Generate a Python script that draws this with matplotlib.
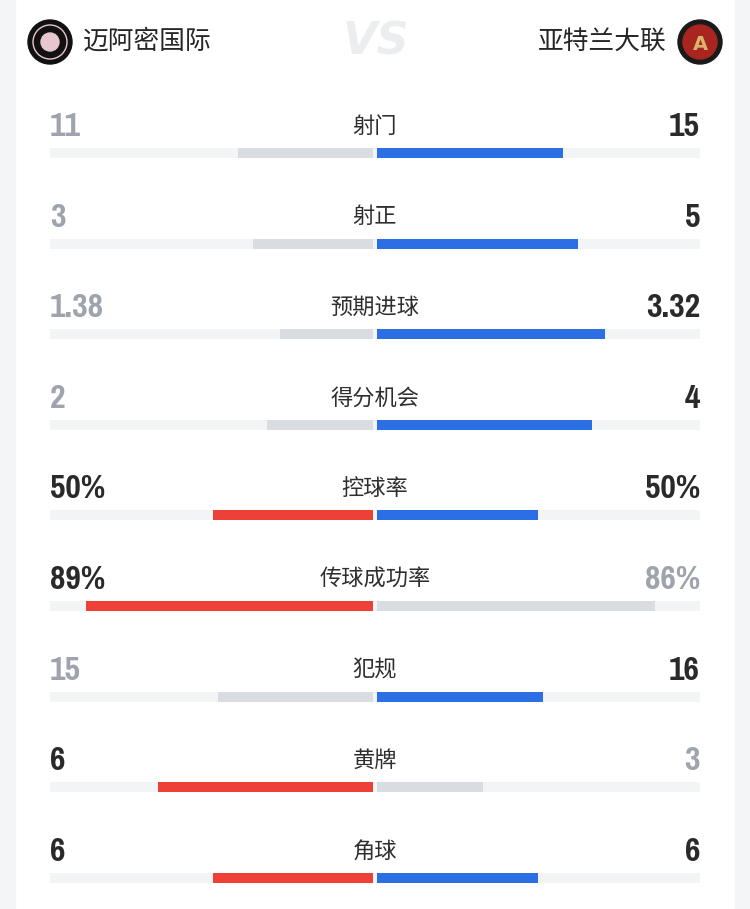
import matplotlib
matplotlib.use('Agg')
import matplotlib.pyplot as plt
from matplotlib import font_manager
from matplotlib.font_manager import FontProperties
from matplotlib.patches import Circle, Rectangle

home_team = '迈阿密国际'
away_team = '亚特兰大联'
stat_names = ['射门', '射正', '预期进球', '得分机会', '控球率', '传球成功率', '犯规', '黄牌', '角球']
home_vals = [11, 3, 1.38, 2, 50, 89, 15, 6, 6]
away_vals = [15, 5, 3.32, 4, 50, 86, 16, 3, 6]
is_pct = [False, False, False, False, True, True, False, False, False]

RED = '#EE4036'
BLUE = '#2C6FE4'
LOSE_BAR = '#D9DCE1'
TRACK = '#F3F4F6'
DARK = '#2A2A2A'
GREY_TXT = '#9EA3AD'
CJK = ['Noto Sans CJK SC', 'DejaVu Sans']


def pick_num_font():
    # prefer a bold condensed face for the numbers
    files = [f for f in font_manager.fontManager.ttflist]
    for key in ['Narrow-Bold', 'NarrowBold', 'Condensed-Bold', 'CondensedBold', 'Condensed']:
        for f in files:
            if key.lower() in f.fname.lower().replace('_', '-') and 'oblique' not in f.fname.lower() \
                    and 'italic' not in f.fname.lower():
                return FontProperties(fname=f.fname, size=26.5)
    return FontProperties(family='Roboto', weight='bold', size=26)


num_fp = pick_num_font()


def fmt(v, pct):
    s = ('%g' % v)
    return s + '%' if pct else s


fig = plt.figure(figsize=(7.5, 9.09), dpi=100)
ax = fig.add_axes([0, 0, 1, 1])
ax.set_xlim(0, 750)
ax.set_ylim(909, 0)
ax.axis('off')

# side strips
ax.add_patch(Rectangle((0, 0), 15, 909, color='#F4F5F7', zorder=0))
ax.add_patch(Rectangle((735, 0), 15, 909, color='#F4F5F7', zorder=0))

# header
ax.add_patch(Circle((50, 42), 22, color='#111111', zorder=2))
ax.add_patch(Circle((50, 42), 17, fill=False, ec='#E8C6CF', lw=1, zorder=3))
ax.add_patch(Circle((50, 42), 9, color='#E8C6CF', zorder=3))
ax.add_patch(Circle((700, 42), 22, color='#1A1A1A', zorder=2))
ax.add_patch(Circle((700, 42), 17, color='#A8261F', zorder=3))
ax.text(700, 44, 'A', ha='center', va='center', fontsize=14, fontweight='bold',
        color='#D8B56A', zorder=4)
ax.text(83, 42, home_team, ha='left', va='center', fontsize=18.5, family=CJK, color='#262626')
ax.text(667, 42, away_team, ha='right', va='center', fontsize=18.5, family=CJK, color='#262626')
ax.text(376, 42, 'VS', ha='center', va='center', fontsize=32, fontweight='bold',
        style='italic', color='#ECEDEF', family='DejaVu Sans')

center = 375
half = 325
gap = 2
row0 = 126
step = 90.6

for i, name in enumerate(stat_names):
    a, b = home_vals[i], away_vals[i]
    ty = row0 + i * step
    by = ty + 27
    if is_pct[i]:
        la, lb = a / 100 * half, b / 100 * half
    else:
        la, lb = a / (a + b) * half, b / (a + b) * half
    home_win = a >= b
    away_win = b >= a

    ax.barh(by, 2 * half, left=center - half, height=10, color=TRACK, zorder=1)
    ax.barh(by, la - gap, left=center - la, height=10,
            color=RED if home_win else LOSE_BAR, zorder=2)
    ax.barh(by, lb - gap, left=center + gap, height=10,
            color=BLUE if away_win else LOSE_BAR, zorder=2)

    ax.text(center, ty, name, ha='center', va='center', fontsize=16, family=CJK, color='#2E2E2E')
    ax.text(50, ty + 1, fmt(a, is_pct[i]), ha='left', va='center', fontproperties=num_fp,
            fontweight='bold', color=DARK if home_win else GREY_TXT)
    ax.text(700, ty + 1, fmt(b, is_pct[i]), ha='right', va='center', fontproperties=num_fp,
            fontweight='bold', color=DARK if away_win else GREY_TXT)

fig.savefig('out.png', dpi=100, facecolor='white')
